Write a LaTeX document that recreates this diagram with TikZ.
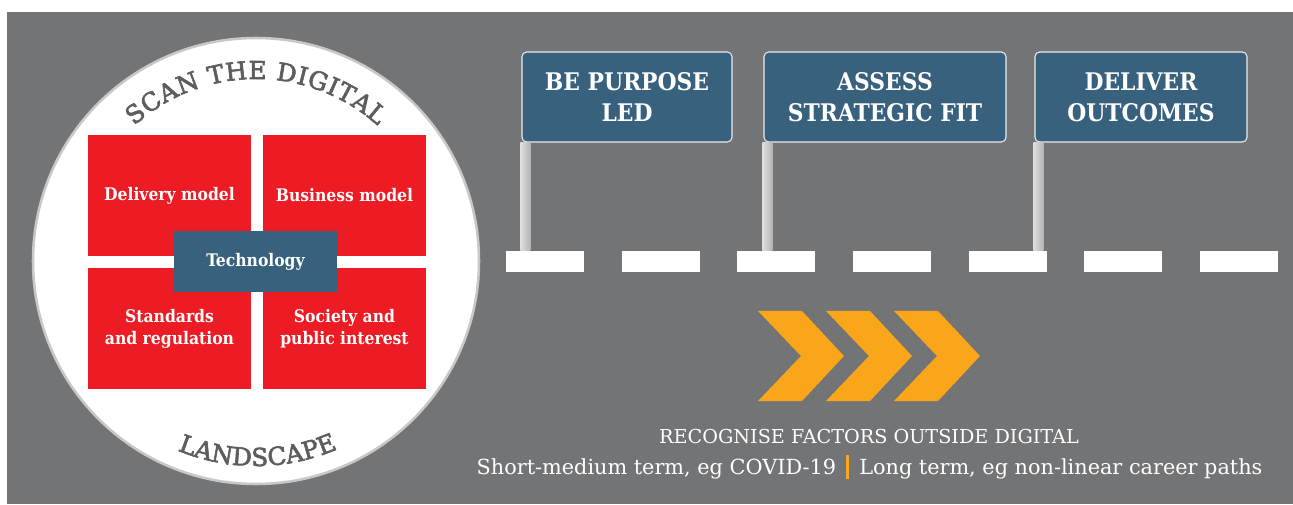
\documentclass[tikz,border=0pt]{standalone}
\usepackage{fontspec}
\setmainfont{DejaVu Serif Condensed}
\newfontfamily\widefont{DejaVu Serif}
\newfontfamily\arcfont{DejaVu Serif}[FakeBold=2.6]
\usetikzlibrary{shapes,positioning,calc,decorations.text}

\definecolor{bggray}{HTML}{737476}
\definecolor{boxred}{HTML}{ED1C24}
\definecolor{signblue}{HTML}{38617E}
\definecolor{chevorange}{HTML}{F9A61A}
\definecolor{arcgray}{HTML}{5C5D5F}
\definecolor{ringgray}{HTML}{C8C8C8}

\begin{document}
\begin{tikzpicture}[x=0.75pt, y=0.75pt,
    redbox/.style={rectangle, fill=boxred, text=white, inner sep=0pt, minimum width=122.25pt, minimum height=90.75pt, align=center, font=\fontsize{13}{16.5}\selectfont\bfseries},
    techbox/.style={rectangle, fill=signblue, text=white, inner sep=0pt, minimum width=122.25pt, minimum height=45.75pt, font=\fontsize{13}{16.5}\selectfont\bfseries},
    signbox/.style={rectangle, rounded corners=3.5pt, draw=white!85!gray, line width=0.8pt, fill=signblue, text=white, inner sep=0pt, minimum height=67.5pt, align=center, font=\fontsize{18.2}{23}\selectfont\bfseries},
    roadmark/.style={rectangle, fill=white, inner sep=0pt, minimum width=58.5pt, minimum height=15.75pt},
    pole/.style={left color=gray!25, middle color=white, right color=gray!60},
    chevron/.style={fill=chevorange},
    caption/.style={text=white, anchor=base, inner sep=0pt}]
    \useasboundingbox (0,0) rectangle (1293,504);
    \fill[white] (0,0) rectangle (1293,504);
    \fill[bggray] (7,0) rectangle (1293,492);

    % landscape circle
    \node[circle, draw=ringgray, line width=1.9pt, fill=white, minimum size=334.5pt, inner sep=0pt] (scan) at (256,243) {};
    \path[decorate, decoration={text along path, text align={fit to path},
        text={|\arcfont\fontsize{18.5}{18.5}\selectfont\color{arcgray}|SCAN THE DIGITAL}}]
        (scan.center) ++(132:182) arc[start angle=132, end angle=48, radius=182];
    \path[decorate, decoration={text along path, text align={fit to path},
        text={|\arcfont\fontsize{18.5}{18.5}\selectfont\color{arcgray}|LANDSCAPE}}]
        (scan.center) ++(247.5:205) arc[start angle=247.5, end angle=293.5, radius=205];

    \node[redbox] (delivery) at (169.5,308.5) {Delivery model};
    \node[redbox] (business) at (344.5,308.5) {Business model};
    \node[redbox] (standards) at (169.5,175.5) {Standards\\and regulation};
    \node[redbox] (society) at (344.5,175.5) {Society and\\public interest};
    \node[techbox] (tech) at (255.5,242.5) {Technology};

    % road
    \foreach \i in {1,...,7}
        \node[roadmark] (lane\i) at ({545+115.67*(\i-1)},242.5) {};

    % signposts
    \node[signbox, minimum width=157.5pt] (purpose) at (627,407) {BE PURPOSE\\LED};
    \node[signbox, minimum width=181.5pt] (fit) at (885,407) {ASSESS\\STRATEGIC FIT};
    \node[signbox, minimum width=159pt] (outcomes) at (1141,407) {DELIVER\\OUTCOMES};
    \shade[pole] ($(purpose.south west)+(-1,0)$) rectangle ($(purpose.south west |- lane1.north)+(9,0)$);
    \shade[pole] ($(fit.south west)+(-1,0)$) rectangle ($(fit.south west |- lane3.north)+(9,0)$);
    \shade[pole] ($(outcomes.south west)+(-1,0)$) rectangle ($(outcomes.south west |- lane5.north)+(9,0)$);

    % chevrons
    \foreach \i in {0,1,2}
        \fill[chevron, shift={(68*\i,0)}] (758,193) -- (802,193) -- (844,148) -- (802,103) -- (758,103) -- (801,148) -- cycle;

    \node[caption, font=\widefont\fontsize{14.4}{16}\selectfont] (factors) at (869,61) {RECOGNISE FACTORS OUTSIDE DIGITAL};
    \node[caption, font=\widefont\fontsize{15.6}{18}\selectfont] (terms) at (869.5,30) {Short-medium term, eg COVID-19\enspace\textcolor{chevorange}{\rule[-0.25em]{1.8pt}{1.15em}}\enspace Long term, eg non-linear career paths};
\end{tikzpicture}
\end{document}
